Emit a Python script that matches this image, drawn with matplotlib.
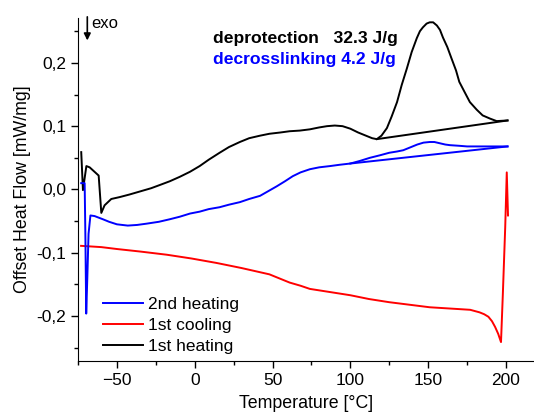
import matplotlib.pyplot as plt
from matplotlib.ticker import MultipleLocator, FuncFormatter

plt.rcParams['font.family'] = ['Liberation Sans', 'DejaVu Sans']

# 1st heating (black)
t_heat1 = [-72.9, -71.8, -69.6, -67.5, -61.7, -60.0, -57.9, -53.6, -48.2, -42, -35, -28, -22.5, -16,
           -9.6, -3, 3.2, 9, 16, 22, 29, 35, 42, 48, 55, 61, 67.5, 74, 80, 85, 90, 95, 100, 105, 109,
           114, 117, 120, 123.5, 126.5, 130, 133, 136.3, 139.4, 142.7, 144.7, 146.6, 149, 151, 153.2,
           155.6, 157.6, 159.5, 162.3, 165, 167.9, 170, 173.6, 176.8, 181.2, 185, 189.7, 194, 201]
q_heat1 = [0.059, -0.001, 0.037, 0.035, 0.022, -0.037, -0.025, -0.015, -0.012, -0.008, -0.003, 0.002,
           0.007, 0.013, 0.02, 0.028, 0.037, 0.047, 0.058, 0.067, 0.075, 0.081, 0.085, 0.088, 0.09,
           0.092, 0.093, 0.095, 0.098, 0.1, 0.101, 0.1, 0.096, 0.09, 0.086, 0.081, 0.0795, 0.085,
           0.097, 0.115, 0.138, 0.165, 0.191, 0.217, 0.239, 0.25, 0.256, 0.262, 0.264, 0.264, 0.259,
           0.252, 0.24, 0.225, 0.207, 0.188, 0.17, 0.153, 0.138, 0.126, 0.117, 0.112, 0.108, 0.109]
base_heat1_t = [117, 201]
base_heat1_q = [0.0795, 0.109]

# 1st cooling (red)
t_cool1 = [-73, -60, -50, -35, -18, -2, 14, 30, 48, 55, 61, 68, 74, 87, 100, 112, 125, 138, 151, 164,
           177, 183, 186, 188.7, 191, 193, 195, 196.8, 198, 199.5, 200.5, 201.3]
q_cool1 = [-0.089, -0.091, -0.094, -0.098, -0.103, -0.109, -0.116, -0.124, -0.134, -0.141, -0.147,
           -0.152, -0.157, -0.162, -0.167, -0.173, -0.178, -0.182, -0.186, -0.188, -0.19, -0.194,
           -0.197, -0.201, -0.208, -0.217, -0.228, -0.241, -0.164, -0.06, 0.027, -0.041]

# 2nd heating (blue)
t_heat2 = [-72.9, -70.7, -70.2, -69.7, -69.0, -68.2, -67.0, -64.3, -59, -55, -50, -43, -37, -31, -23,
           -16, -9.6, -3, 3.2, 9, 16, 22, 29, 35, 42, 47, 52.7, 58, 63, 68, 74, 80, 87, 93, 100, 106,
           112.5, 119, 125, 130, 134, 139, 143, 147, 151, 154, 157.5, 161, 164, 170, 175, 182, 190, 201]
q_heat2 = [0.01, 0.01, -0.08, -0.196, -0.14, -0.07, -0.041, -0.042, -0.047, -0.051, -0.055, -0.057,
           -0.056, -0.054, -0.051, -0.047, -0.043, -0.038, -0.035, -0.031, -0.028, -0.024, -0.02,
           -0.015, -0.01, -0.003, 0.005, 0.013, 0.021, 0.027, 0.032, 0.035, 0.037, 0.039, 0.041, 0.045,
           0.05, 0.054, 0.058, 0.06, 0.062, 0.067, 0.071, 0.074, 0.075, 0.075, 0.073, 0.071, 0.07,
           0.069, 0.068, 0.068, 0.068, 0.068]
base_heat2_t = [100, 201]
base_heat2_q = [0.041, 0.068]

fig = plt.figure(figsize=(5.34, 4.16), dpi=100)
ax = fig.add_axes([0.146, 0.132, 0.854, 0.825])

lc, = ax.plot(t_cool1, q_cool1, color='#ff0000', lw=1.4)
lb, = ax.plot(t_heat1, q_heat1, color='black', lw=1.4)
ax.plot(base_heat1_t, base_heat1_q, color='black', lw=1.4)
lh2, = ax.plot(t_heat2, q_heat2, color='#0000ff', lw=1.4)
ax.plot(base_heat2_t, base_heat2_q, color='#0000ff', lw=1.4)

ax.set_xlim(-75, 218)
ax.set_ylim(-0.271, 0.271)
ax.spines['top'].set_visible(False)
ax.spines['right'].set_visible(False)
ax.xaxis.set_major_locator(MultipleLocator(50))
ax.xaxis.set_minor_locator(MultipleLocator(25))
ax.yaxis.set_major_locator(MultipleLocator(0.1))
ax.yaxis.set_minor_locator(MultipleLocator(0.05))
ax.yaxis.set_major_formatter(FuncFormatter(lambda v, p: f'{v:.1f}'.replace('.', ',').replace('-0,0', '0,0')))
ax.tick_params(which='major', direction='out', length=5, width=1, labelsize=12.5)
ax.tick_params(which='minor', direction='out', length=3, width=1)

ax.set_xlabel('Temperature [°C]', fontsize=12.8, labelpad=5)
ax.set_ylabel('Offset Heat Flow [mW/mg]', fontsize=12.8, labelpad=4)

ax.legend([lh2, lc, lb], ['2nd heating', '1st cooling', '1st heating'], loc='lower left',
          frameon=False, fontsize=12.5, handlelength=2.3, handletextpad=0.3, labelspacing=0.34,
          bbox_to_anchor=(0.02, -0.025))

ax.text(11.6, 0.239, 'deprotection   32.3 J/g', fontsize=12.6, fontweight='bold', color='black',
        va='center', ha='left')
ax.text(11.6, 0.206, 'decrosslinking 4.2 J/g', fontsize=12.6, fontweight='bold', color='#0000ff',
        va='center', ha='left')

ax.annotate('', xy=(-69, 0.231), xytext=(-69, 0.277),
            arrowprops=dict(arrowstyle='-|>', color='black', lw=1.2, mutation_scale=10),
            annotation_clip=False)
ax.text(-66.5, 0.262, 'exo', fontsize=12, va='center', ha='left')

fig.savefig('out.png', dpi=100)
